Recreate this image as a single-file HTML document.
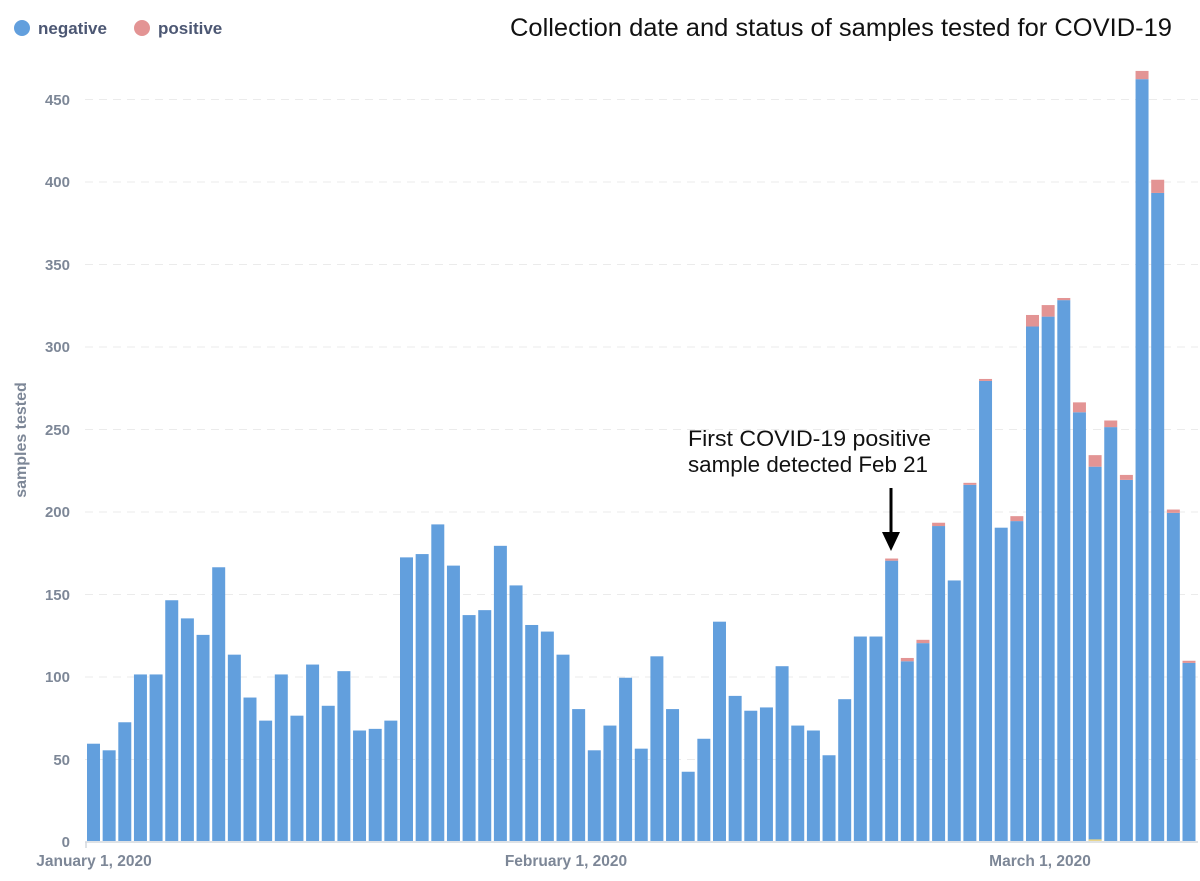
<!DOCTYPE html>
<html><head><meta charset="utf-8"><style>
body{margin:0;background:#fff;}
svg{display:block;font-family:"Liberation Sans",sans-serif;}
</style></head><body>
<svg width="1200" height="881" viewBox="0 0 1200 881">
<!-- legend -->
<circle cx="22" cy="28" r="8" fill="#629fdd"/>
<text x="38" y="34" font-size="17" font-weight="bold" fill="#4c5773">negative</text>
<circle cx="142" cy="28" r="8" fill="#e39494"/>
<text x="158" y="34" font-size="17" font-weight="bold" fill="#4c5773">positive</text>
<text x="1172" y="36" font-size="25" text-anchor="end" fill="#111" textLength="662" lengthAdjust="spacingAndGlyphs">Collection date and status of samples tested for COVID-19</text>
<!-- grid -->
<g stroke="#ebebeb" stroke-width="1" stroke-dasharray="8,6">
<line x1="85" x2="1198" y1="759.5" y2="759.5"/><line x1="85" x2="1198" y1="677" y2="677"/>
<line x1="85" x2="1198" y1="594.5" y2="594.5"/><line x1="85" x2="1198" y1="512" y2="512"/>
<line x1="85" x2="1198" y1="429.5" y2="429.5"/><line x1="85" x2="1198" y1="347" y2="347"/>
<line x1="85" x2="1198" y1="264.5" y2="264.5"/><line x1="85" x2="1198" y1="182" y2="182"/>
<line x1="85" x2="1198" y1="99.5" y2="99.5"/>
</g>
<g font-size="15" font-weight="bold" fill="#7d8797" text-anchor="end">
<text x="70" y="847">0</text><text x="70" y="765">50</text><text x="70" y="682">100</text>
<text x="70" y="600">150</text><text x="70" y="517">200</text><text x="70" y="435">250</text>
<text x="70" y="352">300</text><text x="70" y="270">350</text><text x="70" y="187">400</text>
<text x="70" y="105">450</text>
</g>
<text transform="translate(26,440) rotate(-90)" font-size="16" font-weight="bold" fill="#7d8797" text-anchor="middle">samples tested</text>
<!-- bars -->
<g transform="translate(87,841) scale(15.65,-1.649)" fill="#629fdd">
<rect x="0" width="0.83" height="59"/><rect x="1" width="0.83" height="55"/><rect x="2" width="0.83" height="72"/>
<rect x="3" width="0.83" height="101"/><rect x="4" width="0.83" height="101"/><rect x="5" width="0.83" height="146"/>
<rect x="6" width="0.83" height="135"/><rect x="7" width="0.83" height="125"/><rect x="8" width="0.83" height="166"/>
<rect x="9" width="0.83" height="113"/><rect x="10" width="0.83" height="87"/><rect x="11" width="0.83" height="73"/>
<rect x="12" width="0.83" height="101"/><rect x="13" width="0.83" height="76"/><rect x="14" width="0.83" height="107"/>
<rect x="15" width="0.83" height="82"/><rect x="16" width="0.83" height="103"/><rect x="17" width="0.83" height="67"/>
<rect x="18" width="0.83" height="68"/><rect x="19" width="0.83" height="73"/><rect x="20" width="0.83" height="172"/>
<rect x="21" width="0.83" height="174"/><rect x="22" width="0.83" height="192"/><rect x="23" width="0.83" height="167"/>
<rect x="24" width="0.83" height="137"/><rect x="25" width="0.83" height="140"/><rect x="26" width="0.83" height="179"/>
<rect x="27" width="0.83" height="155"/><rect x="28" width="0.83" height="131"/><rect x="29" width="0.83" height="127"/>
<rect x="30" width="0.83" height="113"/><rect x="31" width="0.83" height="80"/><rect x="32" width="0.83" height="55"/>
<rect x="33" width="0.83" height="70"/><rect x="34" width="0.83" height="99"/><rect x="35" width="0.83" height="56"/>
<rect x="36" width="0.83" height="112"/><rect x="37" width="0.83" height="80"/><rect x="38" width="0.83" height="42"/>
<rect x="39" width="0.83" height="62"/><rect x="40" width="0.83" height="133"/><rect x="41" width="0.83" height="88"/>
<rect x="42" width="0.83" height="79"/><rect x="43" width="0.83" height="81"/><rect x="44" width="0.83" height="106"/>
<rect x="45" width="0.83" height="70"/><rect x="46" width="0.83" height="67"/><rect x="47" width="0.83" height="52"/>
<rect x="48" width="0.83" height="86"/><rect x="49" width="0.83" height="124"/><rect x="50" width="0.83" height="124"/>
<rect x="51" width="0.83" height="170"/><rect x="52" width="0.83" height="109"/><rect x="53" width="0.83" height="120"/>
<rect x="54" width="0.83" height="191"/><rect x="55" width="0.83" height="158"/><rect x="56" width="0.83" height="216"/>
<rect x="57" width="0.83" height="279"/><rect x="58" width="0.83" height="190"/><rect x="59" width="0.83" height="194"/>
<rect x="60" width="0.83" height="312"/><rect x="61" width="0.83" height="318"/><rect x="62" width="0.83" height="328"/>
<rect x="63" width="0.83" height="260"/><rect x="64" width="0.83" height="227"/><rect x="65" width="0.83" height="251"/>
<rect x="66" width="0.83" height="219"/><rect x="67" width="0.83" height="462"/><rect x="68" width="0.83" height="393"/>
<rect x="69" width="0.83" height="199"/><rect x="70" width="0.83" height="108"/>
<g fill="#e39494">
<rect x="51" y="170" width="0.83" height="1.3"/><rect x="52" y="109" width="0.83" height="2"/><rect x="53" y="120" width="0.83" height="2"/>
<rect x="54" y="191" width="0.83" height="2"/><rect x="56" y="216" width="0.83" height="1.2"/><rect x="57" y="279" width="0.83" height="1.2"/>
<rect x="59" y="194" width="0.83" height="3"/><rect x="60" y="312" width="0.83" height="7"/><rect x="61" y="318" width="0.83" height="7"/>
<rect x="62" y="328" width="0.83" height="1.3"/><rect x="63" y="260" width="0.83" height="6"/><rect x="64" y="227" width="0.83" height="7"/>
<rect x="65" y="251" width="0.83" height="4"/><rect x="66" y="219" width="0.83" height="3"/><rect x="67" y="462" width="0.83" height="5"/>
<rect x="68" y="393" width="0.83" height="8"/><rect x="69" y="199" width="0.83" height="2"/><rect x="70" y="108" width="0.83" height="1.3"/>
</g>
<rect x="64" y="0" width="0.83" height="1" fill="#e8d58c"/>
</g>
<!-- axis -->
<line x1="85" x2="1198" y1="842" y2="842" stroke="#d3d8de" stroke-width="1.5"/>
<line x1="86" x2="86" y1="842" y2="848" stroke="#d3d8de" stroke-width="1.5"/>
<g font-size="15.5" font-weight="bold" fill="#7d8797" text-anchor="middle">
<text x="94" y="866">January 1, 2020</text>
<text x="566" y="866">February 1, 2020</text>
<text x="1040" y="866">March 1, 2020</text>
</g>
<!-- annotation -->
<text x="688" y="446" font-size="22" fill="#111" textLength="243" lengthAdjust="spacingAndGlyphs">First COVID-19 positive</text>
<text x="688" y="472" font-size="22" fill="#111" textLength="240" lengthAdjust="spacingAndGlyphs">sample detected Feb 21</text>
<line x1="891" y1="488" x2="891" y2="534" stroke="#000" stroke-width="3"/>
<polygon points="882,532 900,532 891,551" fill="#000"/>
</svg>
</body></html>
